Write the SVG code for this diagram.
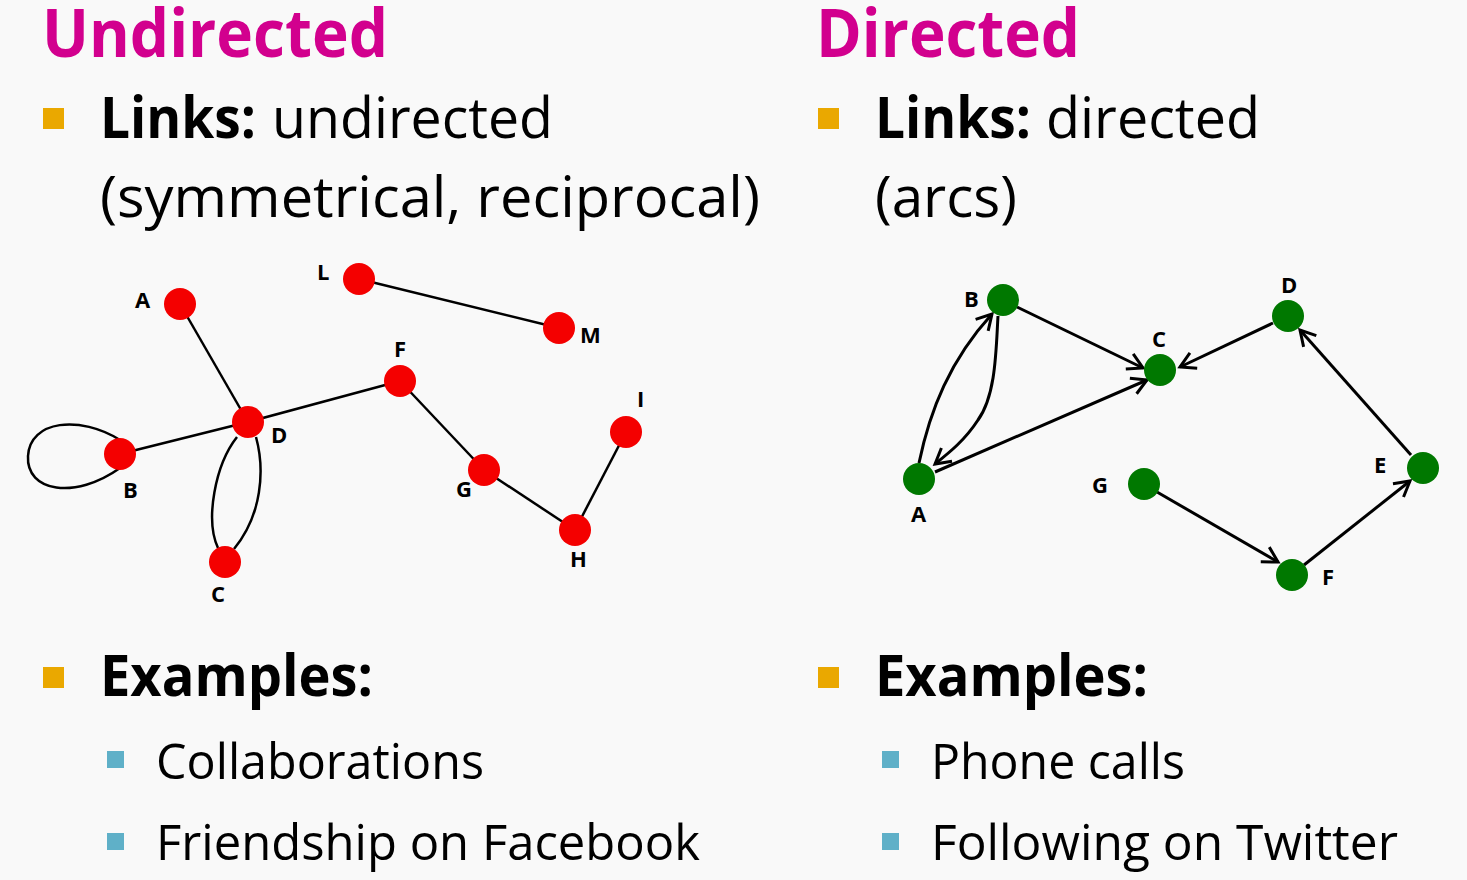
<svg xmlns="http://www.w3.org/2000/svg" width="1467" height="880" viewBox="0 0 1467 880">
<style>
.title{font-family:"Open Sans","Liberation Sans",sans-serif;font-weight:bold;font-size:66px;fill:#d2008e}
.body{font-family:"Open Sans","Liberation Sans",sans-serif;font-size:57px;fill:#000}
.b{font-weight:bold}
.sub{font-family:"Open Sans","Liberation Sans",sans-serif;font-size:50px;fill:#000}
.lbl{font-family:"Open Sans","Liberation Sans",sans-serif;font-weight:bold;font-size:22px;fill:#000}
.ob{fill:#eaa800}
.bb{fill:#5fb0c8}
.un{fill:#f40000}
.dn{fill:#007800}
.e{fill:none;stroke:#000;stroke-width:2.5}
.de{fill:none;stroke:#000;stroke-width:3;marker-end:url(#arr)}
</style>
<defs>
<marker id="arr" markerUnits="userSpaceOnUse" markerWidth="22" markerHeight="22" viewBox="0 0 22 22" refX="19" refY="11" orient="auto">
<path d="M4,2.5 L19,11 L4,19.5" fill="none" stroke="#000" stroke-width="3" stroke-linejoin="miter"/>
</marker>
</defs>
<rect width="1467" height="880" fill="#f9f9f9"/>

<g id="text-left">
<text class="title" x="42" y="57" textLength="346" lengthAdjust="spacingAndGlyphs">Undirected</text>
<rect class="ob" x="43" y="108" width="21" height="21"/>
<text class="body b" x="100" y="138" textLength="156" lengthAdjust="spacingAndGlyphs">Links:</text>
<text class="body" x="272" y="138" textLength="281" lengthAdjust="spacingAndGlyphs">undirected</text>
<text class="body" x="100" y="217" textLength="660" lengthAdjust="spacingAndGlyphs">(symmetrical, reciprocal)</text>
<rect class="ob" x="43" y="667" width="21" height="21"/>
<text class="body b" x="100" y="696" textLength="273" lengthAdjust="spacingAndGlyphs">Examples:</text>
<rect class="bb" x="107" y="751" width="17" height="17"/>
<text class="sub" x="156" y="779" textLength="328" lengthAdjust="spacingAndGlyphs">Collaborations</text>
<rect class="bb" x="107" y="833" width="17" height="17"/>
<text class="sub" x="156" y="860" textLength="544" lengthAdjust="spacingAndGlyphs">Friendship on Facebook</text>
</g>

<g id="text-right">
<text class="title" x="816" y="57" textLength="264" lengthAdjust="spacingAndGlyphs">Directed</text>
<rect class="ob" x="818" y="108" width="21" height="21"/>
<text class="body b" x="875" y="138" textLength="156" lengthAdjust="spacingAndGlyphs">Links:</text>
<text class="body" x="1046" y="138" textLength="214" lengthAdjust="spacingAndGlyphs">directed</text>
<text class="body" x="875" y="217" textLength="142" lengthAdjust="spacingAndGlyphs">(arcs)</text>
<rect class="ob" x="818" y="667" width="21" height="21"/>
<text class="body b" x="875" y="696" textLength="273" lengthAdjust="spacingAndGlyphs">Examples:</text>
<rect class="bb" x="882" y="751" width="17" height="17"/>
<text class="sub" x="931" y="779" textLength="254" lengthAdjust="spacingAndGlyphs">Phone calls</text>
<rect class="bb" x="882" y="833" width="17" height="17"/>
<text class="sub" x="931" y="860" textLength="467" lengthAdjust="spacingAndGlyphs">Following on Twitter</text>
</g>

<g id="undirected-edges">
<line class="e" x1="180" y1="304" x2="248" y2="422"/>
<line class="e" x1="120" y1="454" x2="248" y2="422"/>
<line class="e" x1="248" y1="422" x2="400" y2="381"/>
<line class="e" x1="359" y1="279" x2="559" y2="328"/>
<line class="e" x1="400" y1="381" x2="484" y2="470"/>
<line class="e" x1="484" y1="470" x2="575" y2="530"/>
<line class="e" x1="575" y1="530" x2="626" y2="432"/>
<path class="e" d="M237,437 C215,465 205,520 218,548"/>
<path class="e" d="M256,437 C265,470 262,515 234,549"/>
<path class="e" d="M120,440 C80,415 30,420 28,456 C26,492 75,500 120,468"/>
</g>

<g id="u-A"><circle class="un" cx="180" cy="304" r="16"/><text class="lbl" x="135" y="308">A</text></g>
<g id="u-B"><circle class="un" cx="120" cy="454" r="16"/><text class="lbl" x="123" y="498">B</text></g>
<g id="u-C"><circle class="un" cx="225" cy="562" r="16"/><text class="lbl" x="211" y="602">C</text></g>
<g id="u-D"><circle class="un" cx="248" cy="422" r="16"/><text class="lbl" x="271" y="443">D</text></g>
<g id="u-F"><circle class="un" cx="400" cy="381" r="16"/><text class="lbl" x="394" y="357">F</text></g>
<g id="u-G"><circle class="un" cx="484" cy="470" r="16"/><text class="lbl" x="456" y="497">G</text></g>
<g id="u-H"><circle class="un" cx="575" cy="530" r="16"/><text class="lbl" x="570" y="567">H</text></g>
<g id="u-I"><circle class="un" cx="626" cy="432" r="16"/><text class="lbl" x="637" y="407">I</text></g>
<g id="u-L"><circle class="un" cx="359" cy="279" r="16"/><text class="lbl" x="317" y="280">L</text></g>
<g id="u-M"><circle class="un" cx="559" cy="328" r="16"/><text class="lbl" x="580" y="343">M</text></g>

<g id="directed-edges">
<path class="de" d="M919,463 C930,410 950,360 992,314"/>
<path class="de" d="M998,316 C996,350 996,395 978,420 C965,440 950,452 935,464"/>
<line class="de" x1="1017" y1="307" x2="1143" y2="368"/>
<line class="de" x1="935" y1="472" x2="1147" y2="380"/>
<line class="de" x1="1273" y1="323" x2="1180" y2="367"/>
<line class="de" x1="1411" y1="455" x2="1300" y2="330"/>
<line class="de" x1="1157" y1="492" x2="1278" y2="562"/>
<line class="de" x1="1304" y1="565" x2="1410" y2="481"/>
</g>

<g id="d-A"><circle class="dn" cx="919" cy="479" r="16"/><text class="lbl" x="911" y="522">A</text></g>
<g id="d-B"><circle class="dn" cx="1003" cy="300" r="16"/><text class="lbl" x="964" y="307">B</text></g>
<g id="d-C"><circle class="dn" cx="1160" cy="370" r="16"/><text class="lbl" x="1152" y="347">C</text></g>
<g id="d-D"><circle class="dn" cx="1288" cy="316" r="16"/><text class="lbl" x="1281" y="293">D</text></g>
<g id="d-E"><circle class="dn" cx="1423" cy="468" r="16"/><text class="lbl" x="1374" y="473">E</text></g>
<g id="d-F"><circle class="dn" cx="1292" cy="575" r="16"/><text class="lbl" x="1322" y="585">F</text></g>
<g id="d-G"><circle class="dn" cx="1144" cy="484" r="16"/><text class="lbl" x="1092" y="493">G</text></g>
</svg>
